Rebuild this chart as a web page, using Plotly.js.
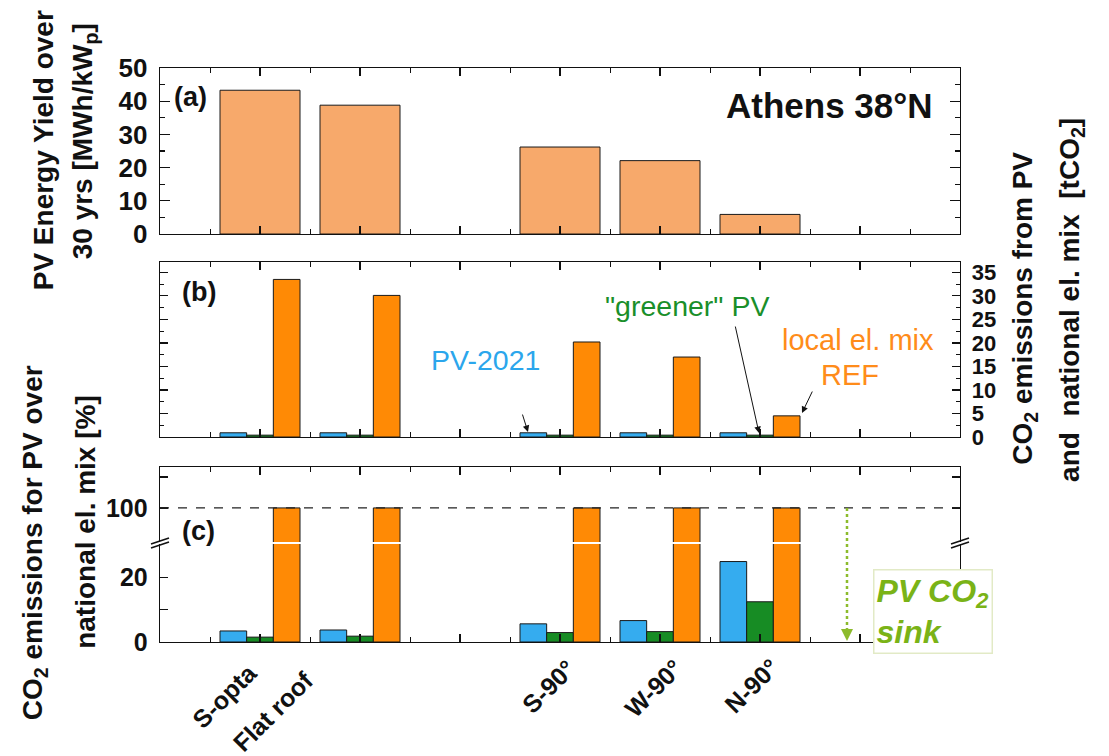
<!DOCTYPE html>
<html>
<head>
<meta charset="utf-8">
<script src="https://cdn.plot.ly/plotly-3.0.1.min.js"></script>
<style>html,body{margin:0;padding:0;background:#fff;}#chart{width:1109px;height:756px;}</style>
</head>
<body>
<div id="chart"></div>
<script>
// ---- data ----
const categories = ['S-opta', 'Flat roof', 'S-90°', 'W-90°', 'N-90°'];
const catPos = [1, 2, 4, 5, 6];
const yieldMWh = [43.3, 38.8, 26.2, 22.1, 5.9];          // panel (a) MWh/kWp
const co2PV2021 = [0.9, 0.9, 0.9, 0.9, 0.9];              // panel (b) tCO2
const co2Greener = [0.4, 0.4, 0.4, 0.4, 0.4];
const co2LocalMix = [33.5, 30.1, 20.2, 17.0, 4.5];
const pctPV2021 = [3.4, 3.7, 5.6, 6.6, 24.8];            // panel (c) %
const pctGreener = [1.5, 1.8, 2.9, 3.2, 12.4];
const pctLocalMix = [100, 100, 100, 100, 100];
const xTickVals = [0, 1, 2, 3, 4, 5, 6, 7, 8];

// ---- styles ----
const FONT = 'Liberation Sans, Arial, Helvetica, sans-serif';
const C_LIGHT = '#f7a96b', C_BLUE = '#35acef', C_GREEN = '#178c24', C_ORANGE = '#ff8a05';
const LINE = {color: '#1a1a1a', width: 1};
const W3 = 0.8 / 3;
const offs = [-0.4, -0.4 + W3, -0.4 + 2 * W3];
const labelShiftX = [5, -38, 24, 31, 27];
const labelShiftY = [-2, -10, 2, 2, 2];

function bar(x, y, color, off, w, xa, ya) {
  return {type: 'bar', x: x, y: y, xaxis: xa, yaxis: ya, width: w, offset: off,
    marker: {color: color, line: LINE}, hoverinfo: 'skip'};
}

const traces = [
  bar(catPos, yieldMWh, C_LIGHT, -0.4, 0.8, 'x', 'y'),
  bar(catPos, co2PV2021, C_BLUE, offs[0], W3, 'x2', 'y2'),
  bar(catPos, co2Greener, C_GREEN, offs[1], W3, 'x2', 'y2'),
  bar(catPos, co2LocalMix, C_ORANGE, offs[2], W3, 'x2', 'y2'),
  bar(catPos, pctPV2021, C_BLUE, offs[0], W3, 'x3', 'y3'),
  bar(catPos, pctGreener, C_GREEN, offs[1], W3, 'x3', 'y3'),
  bar(catPos, pctLocalMix, C_ORANGE, offs[2], W3, 'x3', 'y3'),
  bar(catPos, pctLocalMix, C_ORANGE, offs[2], W3, 'x4', 'y4')
];

function bf(size, color) { return {family: FONT, size: size, weight: 'bold', color: color || '#111'}; }
const baseAx = {showline: true, linecolor: '#111', linewidth: 1.3, showgrid: false, zeroline: false,
  ticks: 'inside', tickcolor: '#111', tickwidth: 1.2, tickfont: bf(26), fixedrange: true};
const xMinor = {tick0: 0.5, dtick: 1, ticks: 'inside', ticklen: 5, tickcolor: '#111', tickwidth: 1};
const xCommon = {domain: [0, 1], range: [0, 8], tickmode: 'array', tickvals: xTickVals, ticklen: 8,
  minor: xMinor, showticklabels: false};

function ann(text, x, y, opts) {
  return Object.assign({text: text, xref: 'paper', yref: 'paper', x: x, y: y, xanchor: 'center',
    yanchor: 'middle', showarrow: false}, opts);
}
function arrow(x, y, ax, ay) {
  return {text: '', xref: 'x2', yref: 'y2', x: x, y: y, ax: ax, ay: ay, showarrow: true,
    arrowhead: 2, arrowsize: 1.3, arrowwidth: 1, arrowcolor: '#111'};
}
function breakMark(xa, dy) {
  return {type: 'line', xref: 'paper', yref: 'paper', xsizemode: 'pixel', ysizemode: 'pixel',
    xanchor: xa, yanchor: 0.1725, x0: -9, x1: 9, y0: dy - 3, y1: dy + 3, line: {color: '#111', width: 1.5}};
}

const annotations = [
  ann('PV Energy Yield over', -0.146, 0.857, {textangle: -90, font: bf(28)}),
  ann('30 yrs [MWh/kW<sub>p</sub>]', -0.094, 0.872, {textangle: -90, font: bf(28)}),
  ann('CO<sub>2</sub> emissions for PV over', -0.156, 0.1725, {textangle: -90, font: bf(28)}),
  ann('national el. mix [%]', -0.094, 0.209, {textangle: -90, font: bf(28)}),
  ann('CO<sub>2</sub> emissions from PV', 1.081, 0.582, {textangle: -90, font: bf(28)}),
  ann('and  national el. mix  [tCO<sub>2</sub>]', 1.14, 0.596, {textangle: -90, font: bf(28)}),
  ann('(a)', 0.015, 0.9495, {xanchor: 'left', font: bf(27)}),
  ann('(b)', 0.025, 0.6098, {xanchor: 'left', font: bf(27)}),
  ann('(c)', 0.025, 0.1934, {xanchor: 'left', font: bf(27)}),
  ann('Athens 38°N', 0.969, 0.9355, {xanchor: 'right', font: bf(35)}),
  ann('PV-2021', 0.40625, 0.4913, {font: {family: FONT, size: 28.5, color: '#2ba6ec'}}),
  ann('"greener" PV', 0.65875, 0.5854, {font: {family: FONT, size: 28.5, color: '#1a8f2a'}}),
  ann('local el. mix', 0.8725, 0.5261, {font: {family: FONT, size: 29, color: '#ff8c1a'}}),
  ann('REF', 0.8625, 0.4652, {font: {family: FONT, size: 29, color: '#ff8c1a'}}),
  arrow(3.68, 1.06, -6, -19),
  arrow(5.99, 0.85, -24, -108),
  arrow(6.42, 5.1, 11, -23),
  {text: '', xref: 'x3', yref: 'y3', x: 6.87, y: 0.3, ax: 0, ay: -12, showarrow: true,
    arrowhead: 2, arrowsize: 1.2, arrowwidth: 2, arrowcolor: '#8cbb2c'},
  ann('PV CO<sub>2</sub><br>sink', 0.966, 0.054, {align: 'left', bgcolor: '#ffffff', bordercolor: '#e2eac6',
    borderwidth: 1.5, borderpad: 2, font: {family: FONT, size: 32, weight: 'bold', style: 'italic', color: '#7ab317'}})
];
// category labels under panel (c)
categories.forEach((c, i) => {
  annotations.push({text: c, xref: 'x3', yref: 'paper', x: catPos[i], y: -0.0192, xshift: labelShiftX[i],
    yshift: labelShiftY[i], xanchor: 'right', yanchor: 'top', textangle: -45, showarrow: false, font: bf(25)});
});

const layout = {
  width: 1109, height: 756,
  margin: {l: 160, r: 149, t: 68, b: 114},
  paper_bgcolor: '#ffffff', plot_bgcolor: '#ffffff',
  showlegend: false, barmode: 'overlay',
  font: {family: FONT, color: '#111'},
  xaxis: Object.assign({}, baseAx, xCommon, {anchor: 'y', mirror: 'allticks'}),
  yaxis: Object.assign({}, baseAx, {anchor: 'x', domain: [0.7108, 1], range: [0, 50], dtick: 10, ticklen: 10,
    minor: {dtick: 5, ticks: 'inside', ticklen: 5, tickcolor: '#111'}, mirror: 'allticks', ticklabelstandoff: 6}),
  xaxis2: Object.assign({}, baseAx, xCommon, {anchor: 'y2', mirror: 'allticks'}),
  yaxis2: Object.assign({}, baseAx, {anchor: 'x2', side: 'right', domain: [0.3571, 0.6620], range: [0, 37.2],
    dtick: 5, ticklen: 8, minor: {dtick: 2.5, ticks: 'inside', ticklen: 4, tickcolor: '#111'},
    mirror: 'allticks', tickfont: bf(22), ticklabelstandoff: 6}),
  xaxis3: Object.assign({}, baseAx, xCommon, {anchor: 'y3', mirror: false}),
  yaxis3: Object.assign({}, baseAx, {anchor: 'x3', domain: [0, 0.1707], range: [0, 30.2], tickmode: 'array',
    tickvals: [0, 10, 20], ticktext: ['0', '', '20'], ticklen: 8, mirror: 'allticks', ticklabelstandoff: 6,
    tickfont: bf(25)}),
  xaxis4: Object.assign({}, baseAx, xCommon, {anchor: 'y4', side: 'top', mirror: false}),
  yaxis4: Object.assign({}, baseAx, {anchor: 'x4', domain: [0.1742, 0.3049], range: [89, 113.2], tickmode: 'array',
    tickvals: [100, 110], ticktext: ['100', ''], ticklen: 8, mirror: 'allticks', ticklabelstandoff: 6,
    tickfont: bf(25)}),
  shapes: [
    {type: 'line', xref: 'paper', yref: 'y4', x0: 0, x1: 1, y0: 100, y1: 100,
      line: {color: '#222', width: 1.2, dash: 'dash'}},
    {type: 'line', xref: 'x3', yref: 'paper', x0: 6.87, x1: 6.87, y0: 0.2334, y1: 0.012,
      line: {color: '#8cbb2c', width: 2.5, dash: 'dot'}},
    breakMark(0, -2), breakMark(0, 2), breakMark(1, -2), breakMark(1, 2)
  ],
  annotations: annotations
};

Plotly.newPlot('chart', traces, layout, {displayModeBar: false, staticPlot: true});
</script>
</body>
</html>
